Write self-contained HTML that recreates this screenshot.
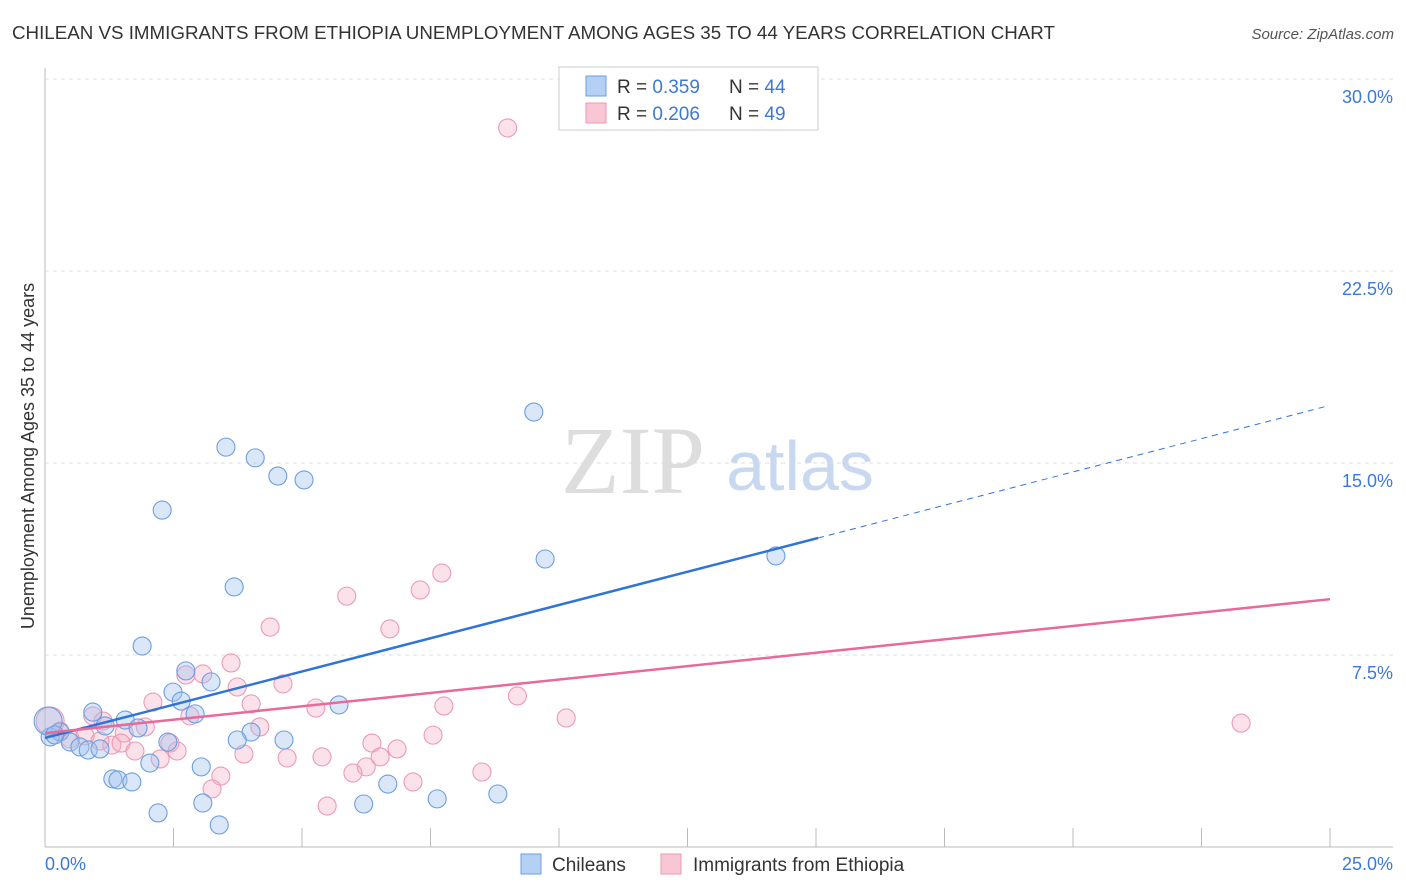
<!DOCTYPE html>
<html><head><meta charset="utf-8"><style>
body{margin:0;background:#fff;font-family:"Liberation Sans",sans-serif;}
#c{position:absolute;left:0;top:0;}
</style></head><body>
<svg id="c" width="1406" height="892">
<text x="12" y="39" font-size="18.75" fill="#333">CHILEAN VS IMMIGRANTS FROM ETHIOPIA UNEMPLOYMENT AMONG AGES 35 TO 44 YEARS CORRELATION CHART</text>
<text x="1394" y="39" font-size="15" fill="#555" font-style="italic" text-anchor="end">Source: ZipAtlas.com</text>
<text x="633" y="493" font-size="96" fill="#ddd" font-family="Liberation Serif,serif" text-anchor="middle">ZIP</text>
<text x="800" y="490" font-size="70" fill="#c8d8f0" text-anchor="middle">atlas</text>
<g id="grid"></g><g id="pts"></g><g id="lines"></g>
<text transform="translate(34,456) rotate(-90)" font-size="18" fill="#333" text-anchor="middle">Unemployment Among Ages 35 to 44 years</text>
<text x="45" y="870" font-size="18" fill="#3b78d8">0.0%</text>
<text x="1393" y="870" font-size="18" fill="#3b78d8" text-anchor="end">25.0%</text>
<g>
<rect x="559" y="67" width="259" height="63" fill="#fff" stroke="#ccc"/>
<rect x="586" y="76" width="20" height="20" fill="#b5d0f5" stroke="#6d9ee0"/>
<rect x="586" y="103" width="20" height="20" fill="#f9c6d5" stroke="#eb9ab2"/>
<text x="617" y="93" font-size="19" fill="#333">R = <tspan fill="#3b78d8">0.359</tspan></text>
<text x="729" y="93" font-size="19" fill="#333">N = <tspan fill="#3b78d8">44</tspan></text>
<text x="617" y="120" font-size="19" fill="#333">R = <tspan fill="#3b78d8">0.206</tspan></text>
<text x="729" y="120" font-size="19" fill="#333">N = <tspan fill="#3b78d8">49</tspan></text>
</g>
<g>
<rect x="521" y="854" width="20" height="20" fill="#b5d0f5" stroke="#6d9ee0"/>
<text x="552" y="871" font-size="19" fill="#333">Chileans</text>
<rect x="661" y="854" width="20" height="20" fill="#f9c6d5" stroke="#eb9ab2"/>
<text x="693" y="871" font-size="19" fill="#333">Immigrants from Ethiopia</text>
</g>
</svg>
<script>
const yTicks=[7.5,15,22.5,30];
const yTickLabels=["7.5%","15.0%","22.5%","30.0%"];
const chileanX=[9.51,3.52,4.09,4.53,5.04,2.28,9.73,14.22,3.68,1.89,2.74,3.23,2.49,2.65,2.92,0.93,1.56,1.81,5.72,4.01,3.74,4.65,2.39,1.17,0.29,0.49,0.68,0.84,1.07,0.1,1.32,1.42,1.69,2.04,3.04,6.67,3.07,6.2,7.63,8.81,2.2,3.39,0.06,0.19];
const chileanY=[16.99,15.62,15.2,14.49,14.34,13.16,11.25,11.37,10.16,7.85,6.88,6.45,6.05,5.7,5.2,5.27,4.96,4.65,5.55,4.49,4.18,4.18,4.1,4.73,4.49,4.1,3.91,3.79,3.83,4.3,2.66,2.62,2.54,3.28,3.13,2.46,1.72,1.68,1.88,2.07,1.33,0.86,4.92,4.38];
const ethX=[9.0,7.72,7.3,5.87,4.38,6.71,3.62,2.74,3.07,4.63,3.74,9.19,2.1,4.01,5.27,7.76,10.14,23.27,0.93,4.18,1.95,1.54,7.55,6.36,1.3,1.48,1.75,2.43,2.57,3.87,6.85,4.71,5.39,6.52,2.24,6.25,5.99,8.5,7.16,3.42,3.25,5.49,0.1,0.29,0.78,1.07,0.49,1.13,2.82];
const ethY=[28.09,10.7,10.04,9.8,8.59,8.52,7.19,6.72,6.76,6.37,6.25,5.9,5.66,5.59,5.43,5.51,5.04,4.84,5.12,4.69,4.69,4.45,4.37,4.06,3.98,4.06,3.75,4.06,3.75,3.63,3.83,3.48,3.52,3.52,3.44,3.13,2.89,2.93,2.54,2.77,2.27,1.6,4.92,4.53,4.34,4.14,4.22,4.92,5.12];
const blueLine=[4.26,12.07,17.2], pinkLine=[4.45,9.68];
const X=v=>45+v*51.4, Y=v=>847-v*25.6;
const ns="http://www.w3.org/2000/svg";
function mk(t,a,p){const e=document.createElementNS(ns,t);for(const k in a)e.setAttribute(k,a[k]);p.appendChild(e);return e;}
const g=document.getElementById('grid');
mk('line',{x1:45,y1:68,x2:45,y2:847,stroke:'#bbb'},g);
mk('line',{x1:45,y1:847,x2:1393,y2:847,stroke:'#bbb'},g);
yTicks.forEach((t,i)=>{const l=mk('line',{x1:45,y1:Y(t),x2:1393,y2:Y(t),stroke:'#ddd','stroke-dasharray':'4,4'},g);


const tx=mk('text',{x:1393,y:Y(t)+24,'font-size':18,fill:'#3b78d8','text-anchor':'end'},g);tx.textContent=yTickLabels[i];

});
for(let i=1;i<=10;i++){const l=mk('line',{x1:X(i*2.5),y1:828,x2:X(i*2.5),y2:847,stroke:'#bbb'},g);

}
const p=document.getElementById('pts');
ethX.forEach((x,i)=>{const c=mk('circle',{cx:X(x),cy:Y(ethY[i]),r:i==42?14:9,fill:'rgba(244,170,195,0.35)',stroke:'#ec9ab5','stroke-width':1.1},p);

});
chileanX.forEach((x,i)=>{const c=mk('circle',{cx:X(x),cy:Y(chileanY[i]),r:i==42?14:9,fill:'rgba(160,195,240,0.4)',stroke:'#6d9ee0','stroke-width':1.1},p);

});
const L=document.getElementById('lines');
let a=mk('line',{x1:X(0),y1:Y(blueLine[0]),x2:X(15.04),y2:Y(blueLine[1]),stroke:'#2f74d8','stroke-width':2.5},L);


a=mk('line',{x1:X(15.04),y1:Y(blueLine[1]),x2:X(24.9),y2:Y(blueLine[2]),stroke:'#2f74d8','stroke-width':1,'stroke-dasharray':'6,5'},L);


a=mk('line',{x1:X(0),y1:Y(pinkLine[0]),x2:X(25),y2:Y(pinkLine[1]),stroke:'#e8699a','stroke-width':2.5},L);


</script>
</body></html>
